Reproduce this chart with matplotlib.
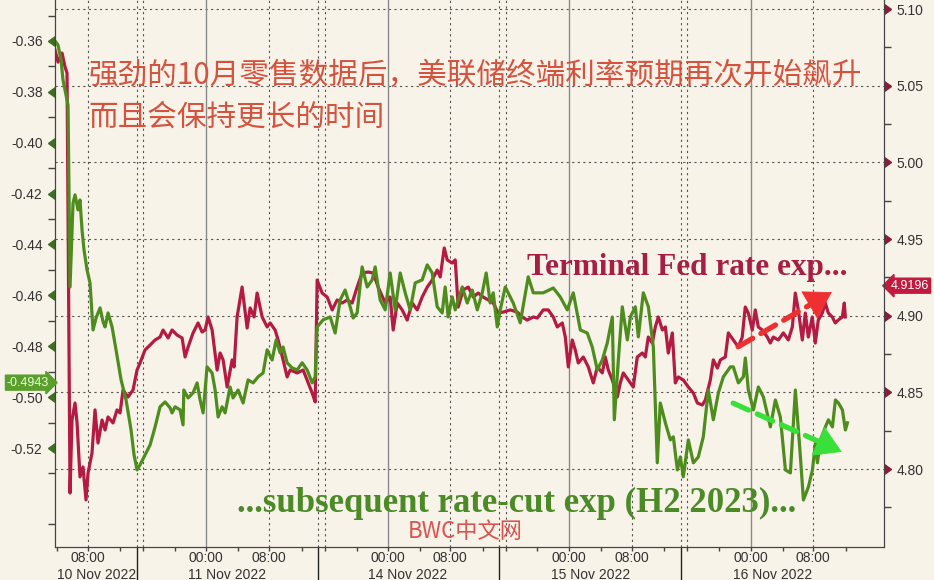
import matplotlib
matplotlib.use("Agg")
import matplotlib.pyplot as plt
import matplotlib.markers as mmarkers
import matplotlib.transforms as mtransforms

# x = trading hours since the left edge (session gaps squeezed out)
green_hours = [0, 0.38, 0.76, 1.01, 1.39, 1.65, 1.90, 2.28, 2.53, 2.91,
               3.16, 3.42, 3.67, 4.05, 4.43, 4.81, 5.19, 5.70, 6.08, 6.33,
               6.71, 7.22, 7.72, 8.36, 8.99, 9.62, 10.0, 10.38, 10.76, 11.39,
               12.03, 12.66, 13.29, 13.93, 14.56, 14.81, 15.19, 15.83, 16.2, 16.3,
               16.84, 17.47, 17.98, 18.36, 18.74, 19.24, 19.88, 20.26, 20.64, 21.14,
               21.52, 22.15, 22.53, 23.17, 23.8, 24.43, 25.07, 25.7, 26.33, 26.84,
               27.47, 27.98, 28.49, 28.86, 29.37, 30.0, 30.64, 31.27, 31.9, 32.54,
               32.92, 33.17, 33.93, 34.82, 35.45, 36.08, 36.71, 37.35, 37.73, 38.23,
               38.86, 39.5, 40.13, 40.51, 41.14, 41.78, 42.41, 43.04, 43.68, 44.31,
               44.94, 45.58, 46.46, 47.1, 47.73, 48.36, 48.99, 49.37, 49.75, 50.26,
               50.64, 51.53, 52.16, 52.79, 53.43, 54.06, 54.56, 55.07, 55.45, 55.96,
               56.34, 56.97, 57.98, 58.87, 59.88, 60.52, 61.78, 63.05, 63.93, 64.82,
               65.58, 66.47, 67.35, 67.98, 68.62, 69.25, 69.88, 70.52, 70.77, 71.28,
               71.78, 72.42, 72.8, 73.43, 73.81, 74.44, 75.08, 75.71, 76.21, 76.59,
               77.23, 77.86, 78.24, 78.75, 79.13, 79.5, 80.14, 80.77, 81.4, 82.03,
               82.67, 83.3, 83.94, 84.57, 85.46, 85.83, 86.47, 87.1, 87.35, 87.73,
               88.37, 89.0, 89.63, 90.52, 91.15, 91.78, 92.42, 93.05, 93.68, 94.32,
               94.7, 95.33, 95.84, 96.22, 96.47, 96.85, 97.48, 97.86, 98.37, 98.75,
               99.13, 99.63, 100.01, 100.27]
# subsequent rate-cut expectation (H2 2023), left axis
green_vals = [-0.360, -0.3616, -0.3675, -0.3753, -0.3812, -0.3852, -0.4567, -0.4237, -0.4205, -0.4264,
              -0.4225, -0.4343, -0.4421, -0.4500, -0.4551, -0.4736, -0.4689, -0.4649, -0.4704, -0.4724,
              -0.4669, -0.4724, -0.4814, -0.4932, -0.5011, -0.5129, -0.5227, -0.5286, -0.5266, -0.5227,
              -0.5188, -0.5117, -0.5038, -0.5019, -0.5042, -0.5062, -0.5038, -0.5050, -0.5109, -0.4972,
              -0.5003, -0.4983, -0.4944, -0.5011, -0.5062, -0.4881, -0.4905, -0.4972, -0.5078, -0.5038,
              -0.5062, -0.4960, -0.5003, -0.4972, -0.5023, -0.4932, -0.4944, -0.4920, -0.4905, -0.4814,
              -0.4854, -0.4775, -0.4826, -0.4803, -0.4865, -0.4885, -0.4893, -0.4865, -0.4893, -0.4944,
              -0.4920, -0.4724, -0.4696, -0.4685, -0.4748, -0.4618, -0.4579, -0.4645, -0.4689, -0.4669,
              -0.4488, -0.4567, -0.4539, -0.4488, -0.4618, -0.4657, -0.4512, -0.4657, -0.4512, -0.4590,
              -0.4657, -0.4551, -0.4539, -0.4480, -0.4512, -0.4645, -0.4669, -0.4567, -0.4685, -0.4606,
              -0.4657, -0.4567, -0.4630, -0.4579, -0.4657, -0.4590, -0.4512, -0.4630, -0.4590, -0.4724,
              -0.4657, -0.4567, -0.4630, -0.4708, -0.4527, -0.4590, -0.4590, -0.4571, -0.4606, -0.4657,
              -0.4590, -0.4736, -0.4748, -0.4803, -0.4893, -0.4854, -0.4787, -0.4685, -0.5089, -0.4854,
              -0.4645, -0.4775, -0.4685, -0.4645, -0.4763, -0.4590, -0.4645, -0.4803, -0.5258, -0.5023,
              -0.5101, -0.5168, -0.5156, -0.5286, -0.5235, -0.5313, -0.5168, -0.5258, -0.5235, -0.5156,
              -0.4972, -0.5089, -0.4983, -0.4920, -0.4881, -0.4881, -0.4944, -0.4920, -0.4846, -0.4972,
              -0.5050, -0.4960, -0.4999, -0.5117, -0.5011, -0.5078, -0.5286, -0.5298, -0.4972, -0.5235,
              -0.5404, -0.5353, -0.5286, -0.5180, -0.5258, -0.5168, -0.5117, -0.5089, -0.5117, -0.5011,
              -0.5023, -0.5050, -0.5129, -0.5101]

red_hours = [0, 0.38, 0.89, 1.27, 1.52, 1.9, 2.15, 2.53, 2.79, 3.16,
             3.54, 3.92, 4.18, 4.68, 5.06, 5.44, 5.95, 6.33, 6.71, 7.34,
             7.85, 8.23, 8.61, 9.24, 9.87, 10.38, 10.76, 11.39, 12.03, 12.66,
             13.29, 13.67, 14.31, 14.81, 15.45, 16.08, 16.46, 16.84, 17.47, 18.1,
             18.61, 18.99, 19.37, 19.88, 20.51, 20.89, 21.27, 21.78, 22.41, 22.66,
             23.04, 23.67, 24.31, 24.69, 25.19, 25.57, 26.21, 26.84, 27.22, 27.85,
             28.23, 28.86, 29.37, 29.75, 30.64, 31.4, 32.03, 32.54, 32.92, 33.17,
             33.8, 34.44, 35.07, 35.7, 36.33, 36.97, 37.6, 38.23, 38.86, 39.63,
             40.26, 40.89, 41.78, 42.41, 42.79, 43.3, 43.93, 44.56, 45.2, 45.83,
             46.46, 47.1, 47.73, 48.36, 48.74, 49.25, 49.63, 50.26, 50.64, 51.02,
             51.65, 52.29, 52.92, 53.55, 54.18, 54.82, 55.45, 56.08, 56.72, 57.6,
             58.49, 59.12, 59.75, 60.52, 61.02, 61.78, 62.41, 63.05, 63.55, 64.19,
             64.57, 64.95, 65.45, 65.83, 66.21, 66.85, 67.48, 68.11, 68.62, 69.25,
             69.63, 70.01, 70.52, 71.15, 71.53, 71.91, 72.54, 73.17, 73.68, 74.31,
             74.69, 75.07, 75.58, 75.96, 76.34, 76.85, 77.23, 77.6, 78.11, 78.49,
             78.87, 79.5, 80.14, 80.77, 81.28, 81.91, 82.29, 82.92, 83.3, 83.81,
             84.19, 84.82, 85.2, 85.83, 86.46, 86.96, 87.34, 87.72, 88.23, 88.61,
             88.99, 89.49, 90.13, 90.51, 90.89, 91.52, 92.16, 92.79, 93.3, 93.67,
             94.05, 94.56, 94.94, 95.32, 95.82, 96.2, 96.58, 97.09, 97.47, 97.85,
             98.35, 98.73, 99.11, 99.62, 99.87, 100.0]
# terminal Fed rate expectation, right axis
red_vals = [5.0733, 5.0654, 5.0713, 5.0622, 5.0583, 4.7844, 4.8320, 4.8431, 4.8301, 4.7949,
            4.8014, 4.7799, 4.7975, 4.8105, 4.8386, 4.8170, 4.8320, 4.8255, 4.8340, 4.8301,
            4.8386, 4.8366, 4.8516, 4.8470, 4.8516, 4.8646, 4.8692, 4.8777, 4.8809, 4.8842,
            4.8861, 4.8907, 4.8855, 4.8907, 4.8874, 4.8855, 4.8731, 4.8796, 4.8888, 4.8953,
            4.8894, 4.8907, 4.8992, 4.8907, 4.8646, 4.8757, 4.8712, 4.8535, 4.8712, 4.8666,
            4.8992, 4.9187, 4.8920, 4.9051, 4.8992, 4.9148, 4.8992, 4.8927, 4.8953, 4.8907,
            4.8842, 4.8712, 4.8601, 4.8646, 4.8627, 4.8646, 4.8562, 4.8496, 4.8438, 4.9233,
            4.9148, 4.9122, 4.9038, 4.9103, 4.9083, 4.9103, 4.9083, 4.9187, 4.9279, 4.9285,
            4.9279, 4.9187, 4.9083, 4.9122, 4.8907, 4.9083, 4.9038, 4.8972, 4.9083, 4.9038,
            4.9122, 4.9187, 4.9233, 4.9298, 4.9253, 4.9442, 4.9364, 4.9344, 4.9364, 4.9057,
            4.9168, 4.9187, 4.9122, 4.9148, 4.9122, 4.9103, 4.9083, 4.9018, 4.9024, 4.9038,
            4.9024, 4.8992, 4.8972, 4.8992, 4.8985, 4.9038, 4.9038, 4.8992, 4.8927, 4.8953,
            4.8861, 4.8666, 4.8842, 4.8777, 4.8692, 4.8731, 4.8666, 4.8562, 4.8666, 4.8627,
            4.8731, 4.8646, 4.8581, 4.8470, 4.8562, 4.8627, 4.8581, 4.8535, 4.8731, 4.8757,
            4.8731, 4.8861, 4.8822, 4.8927, 4.8992, 4.8907, 4.8927, 4.8757, 4.8888, 4.8562,
            4.8601, 4.8581, 4.8535, 4.8496, 4.8431, 4.8418, 4.8451, 4.8581, 4.8712, 4.8659,
            4.8712, 4.8731, 4.8888, 4.8842, 4.8796, 4.8861, 4.9057, 4.9018, 4.8907, 4.9038,
            4.8927, 4.8907, 4.8861, 4.8822, 4.8861, 4.8842, 4.8888, 4.8842, 4.8927, 4.9148,
            4.9038, 4.8842, 4.9018, 4.8861, 4.8992, 4.8822, 4.8972, 4.9018, 4.9083, 4.9018,
            4.8992, 4.8953, 4.8972, 4.8992, 4.9083, 4.8992]

last_green = -0.4943
last_red = 4.9196

# axis ticks / labels
left_ticks = [-0.36, -0.38, -0.40, -0.42, -0.44, -0.46, -0.48, -0.50, -0.52]
left_minor = [-0.35, -0.37, -0.39, -0.41, -0.43, -0.45, -0.47, -0.49, -0.51, -0.53, -0.55]
right_ticks = [4.80, 4.85, 4.90, 4.95, 5.00, 5.05, 5.10]
right_minor = [4.775, 4.825, 4.875, 4.925, 4.975, 5.025, 5.075]
time_ticks = [4.18, 19.11, 27.09, 42.15, 50.0, 65.06, 73.04, 88.1, 95.95]
time_labels = ["08:00", "00:00", "08:00", "00:00", "08:00", "00:00", "08:00", "00:00", "08:00"]
four_hour_ticks = [0.25, 4.18, 8.23, 11.14, 15.19, 19.11, 23.16, 27.09, 31.27, 34.18,
                   38.23, 42.15, 46.2, 50.0, 54.18, 57.09, 61.01, 65.06, 69.11, 73.04,
                   77.09, 80.0, 84.05, 88.1, 92.15, 95.95, 100.13]
midnights = [19.11, 42.15, 65.06, 88.1]
eights = [4.18, 27.09, 50.0, 73.04, 95.95]
session_breaks = [10.38, 33.29, 56.2, 79.24]
session_starts = [11.14, 34.18, 57.09, 80.0]
day_labels = ["10 Nov 2022", "11 Nov 2022", "14 Nov 2022", "15 Nov 2022", "16 Nov 2022"]
day_label_pos = [5.25, 21.77, 44.68, 67.72, 90.76]

bg = "#f8f3e9"
red = "#b31b44"
green = "#4f8c1e"
cjk = ["Noto Sans CJK SC", "DejaVu Sans"]
serif = ["Liberation Serif", "DejaVu Serif"]

plt.rcParams["font.family"] = ["Liberation Sans", "DejaVu Sans"]

fig = plt.figure(figsize=(9.34, 5.8), dpi=100, facecolor=bg)
ax = fig.add_axes([0.0589, 0.0569, 0.8876, 0.9431])
ax2 = ax.twinx()
ax.set_zorder(2)
ax2.set_zorder(1)
ax.patch.set_visible(False)
ax2.set_facecolor(bg)

ax.set_xlim(0, 104.9)
ax.set_ylim(-0.5589, -0.3439)
ax2.set_ylim(4.7492, 5.1059)

# grid
ax2.set_yticks(right_ticks)
ax2.set_yticks(right_minor, minor=True)
ax2.grid(axis="y", which="major", color="#555555", lw=0.8, ls=(0, (2, 3)))
for x in midnights:
    ax2.axvline(x, color="#8a8a8a", lw=1.0)
for x in eights + session_breaks + session_starts:
    ax2.axvline(x, color="#555555", lw=0.8, ls=(0, (2, 3)))

ax2.plot(red_hours, red_vals, color=red, lw=2.3, solid_joinstyle="round")
ax.plot(green_hours, green_vals, color=green, lw=2.3, solid_joinstyle="round")

# spines
for a in (ax, ax2):
    a.spines["top"].set_visible(False)
    for s in ("left", "right", "bottom"):
        a.spines[s].set_color("#444444")

# left axis ticks
ax.set_yticks(left_ticks)
ax.set_yticklabels([f"{v:.2f}" for v in left_ticks])
ax.set_yticks(left_minor, minor=True)
ax.tick_params(axis="y", which="major", length=7, width=1, pad=2, labelsize=10,
               labelcolor="#333333", color="#3f6e25")
ax.tick_params(axis="y", which="minor", length=5, width=1, color="#444444")
for t in ax.yaxis.get_major_ticks():
    t.tick1line.set_marker(mmarkers.CARETLEFTBASE)

ax2.tick_params(axis="y", which="major", length=7, width=1, pad=2, labelsize=10,
                labelcolor="#333333", color="#8a1b3b")
ax2.tick_params(axis="y", which="minor", length=5, width=1, color="#444444")
ax2.set_yticklabels([f"{v:.2f}" for v in right_ticks])
for t in ax2.yaxis.get_major_ticks():
    t.tick2line.set_marker(mmarkers.CARETRIGHTBASE)

# x axis
ax.set_xticks(time_ticks)
ax.set_xticklabels(time_labels)
ax.set_xticks(four_hour_ticks, minor=True)
ax.tick_params(axis="x", which="both", length=3, width=1, color="#444444",
               labelsize=10, labelcolor="#333333", pad=0)
trans = mtransforms.blended_transform_factory(ax.transData, ax.transAxes)
for x in session_breaks:
    ax.plot([x, x], [0, -0.07], transform=trans, color="#222222", lw=1, clip_on=False)
for lab, x in zip(day_labels, day_label_pos):
    ax.text(x, -0.0505, lab, transform=trans, ha="center", va="center",
            fontsize=10, color="#333333")

# last value tags
ax.annotate(f"{last_green:.4f}", xy=(-0.007, last_green), xycoords=("axes fraction", "data"),
            ha="right", va="center", fontsize=9, color="#eaffd8",
            bbox=dict(boxstyle="rarrow,pad=0.12", fc="#5a9e2b", ec="#5a9e2b"),
            annotation_clip=False)
ax2.annotate(f"{last_red:.4f}", xy=(1.008, last_red), xycoords=("axes fraction", "data"),
             ha="left", va="center", fontsize=9, color="#ffffff",
             bbox=dict(boxstyle="larrow,pad=0.12", fc="#c2193f", ec="#c2193f"),
             annotation_clip=False)

# annotations
ax.text(0.040, 0.863, "强劲的10月零售数据后，美联储终端利率预期再次开始飙升",
        transform=ax.transAxes, family=cjk, fontsize=21.3, color="#d4533f", va="center")
ax.text(0.040, 0.786, "而且会保持更长的时间",
        transform=ax.transAxes, family=cjk, fontsize=21.3, color="#d4533f", va="center")
ax.text(0.569, 0.497, "Terminal Fed rate exp...", transform=ax.transAxes,
        family=serif, fontweight="bold", fontsize=22.5, color="#a51f44", va="baseline")
ax.text(0.219, 0.064, "...subsequent rate-cut exp (H2 2023)...", transform=ax.transAxes,
        family=serif, fontweight="bold", fontsize=25, color="#4b8a27", va="baseline")
ax.text(0.426, 0.029, "BWC中文网", transform=ax.transAxes, family=cjk, fontsize=16,
        color="#d9534f", va="center", ha="left")


def dashed_arrow(tail, tip, color):
    # dashed shaft plus a solid head, both in axes fraction
    mid = (tail[0] + 0.86 * (tip[0] - tail[0]), tail[1] + 0.86 * (tip[1] - tail[1]))
    ax.annotate("", xy=mid, xytext=tail, xycoords="axes fraction",
                arrowprops=dict(arrowstyle="-", color=color, lw=3.8,
                                ls=(0, (3.2, 1.8)), shrinkA=0, shrinkB=0))
    ax.annotate("", xy=tip, xytext=mid, xycoords="axes fraction",
                arrowprops=dict(arrowstyle="-|>,head_length=0.9,head_width=0.55",
                                color=color, lw=0.5, mutation_scale=20,
                                shrinkA=0, shrinkB=0))


dashed_arrow((0.824, 0.366), (0.937, 0.466), "#ee3030")
dashed_arrow((0.818, 0.263), (0.949, 0.174), "#3ae03a")

fig.savefig("out.png", dpi=100, facecolor=bg)
